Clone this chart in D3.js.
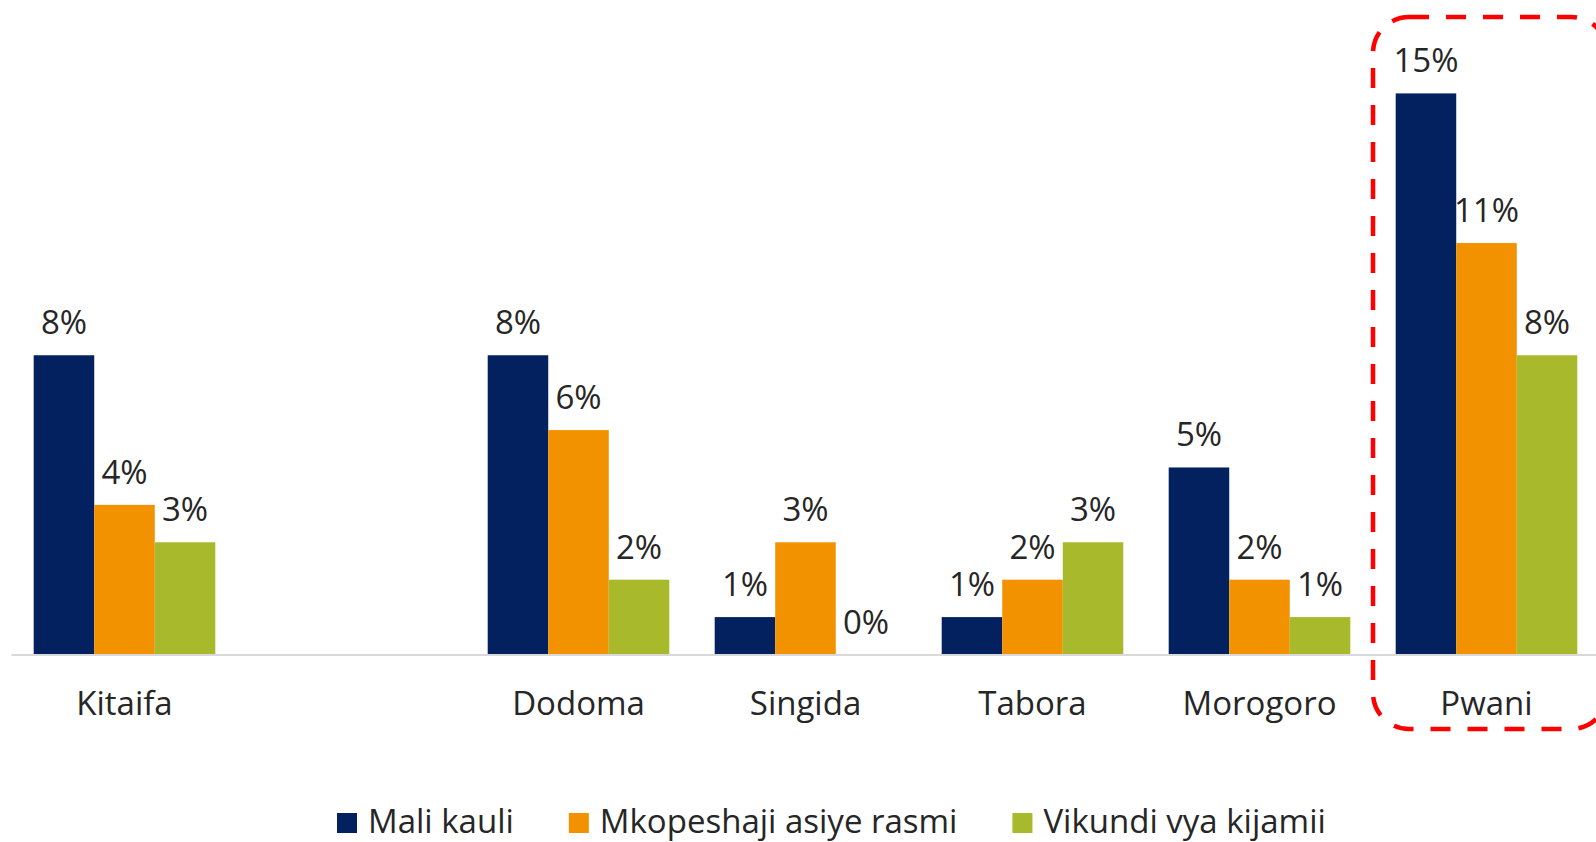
<!DOCTYPE html>
<html>
<head>
<meta charset="utf-8">
<script src="https://cdn.jsdelivr.net/npm/d3@7"></script>
<style>
    html, body { margin: 0; padding: 0; background: #fff; }
    svg { display: block; font-family: "Open Sans", "Noto Sans", sans-serif; }
</style>
</head>
<body>
<svg id="chart" width="1596" height="842"></svg>
<script>
// categories (the empty one is the gap after Kitaifa)
var categories = ["Kitaifa", "", "Dodoma", "Singida", "Tabora", "Morogoro", "Pwani"];

// series values, percent
var maliKauli = [8, null, 8, 1, 1, 5, 15];
var mkopeshaji = [4, null, 6, 3, 2, 2, 11];
var vikundi = [3, null, 2, 0, 3, 1, 8];

var seriesNames = ["Mali kauli", "Mkopeshaji asiye rasmi", "Vikundi vya kijamii"];
var seriesColors = ["#03215f", "#f39200", "#a8b92b"];
var seriesValues = [maliKauli, mkopeshaji, vikundi];

var highlighted = "Pwani";

var svg = d3.select("#chart");
var textColor = "#262626";
var fontSize = "33px";

var x0 = d3.scaleBand()
    .domain(categories)
    .range([11, 1600])
    .paddingInner(0.2)
    .paddingOuter(0.1);

var x1 = d3.scaleBand()
    .domain(d3.range(seriesNames.length))
    .range([0, x0.bandwidth()]);

var y = d3.scaleLinear()
    .domain([0, 16])
    .range([654.5, 56]);

// flatten into rows the library can bind
var rows = [];
categories.forEach(function (c, i) {
    seriesValues.forEach(function (vals, s) {
        if (vals[i] === null) return;
        rows.push({cat: c, series: s, value: vals[i]});
    });
});

// highlight box round Pwani
var step = x0.step();
svg.append("rect")
    .attr("x", x0(highlighted) - step * 0.1)
    .attr("y", 17)
    .attr("width", x0.bandwidth() + step * 0.1 + 30)
    .attr("height", 712)
    .attr("rx", 36)
    .attr("ry", 36)
    .attr("fill", "none")
    .attr("stroke", "#ff0000")
    .attr("stroke-width", 4.5)
    .attr("stroke-dasharray", "20,17");

// bars
svg.append("g")
    .selectAll("rect")
    .data(rows)
    .enter()
    .append("rect")
    .attr("x", function (d) { return x0(d.cat) + x1(d.series); })
    .attr("y", function (d) { return y(d.value); })
    .attr("width", x1.bandwidth())
    .attr("height", function (d) { return y(0) - y(d.value); })
    .attr("fill", function (d) { return seriesColors[d.series]; });

// baseline + category labels
var axis = svg.append("g")
    .attr("transform", "translate(0," + y(0) + ")")
    .call(d3.axisBottom(x0).tickSize(0).tickSizeOuter(0));

axis.select(".domain")
    .attr("stroke", "#d9d9d9")
    .attr("stroke-width", 2);

axis.selectAll(".tick text")
    .attr("y", 60)
    .attr("dy", 0)
    .attr("fill", textColor)
    .style("font-family", "'Open Sans', 'Noto Sans', sans-serif")
    .style("font-size", fontSize);

// value labels
svg.append("g")
    .selectAll("text")
    .data(rows)
    .enter()
    .append("text")
    .attr("x", function (d) { return x0(d.cat) + x1(d.series) + x1.bandwidth() / 2; })
    .attr("y", function (d) { return y(d.value) - 21; })
    .attr("text-anchor", "middle")
    .attr("fill", textColor)
    .style("font-size", fontSize)
    .text(function (d) { return d.value + "%"; });

// legend (sits at the bottom edge, as in the original)
var legend = svg.append("g").attr("transform", "translate(337,813)");
var lx = 0;
seriesNames.forEach(function (name, i) {
    var item = legend.append("g").attr("transform", "translate(" + lx + ",0)");
    item.append("rect")
        .attr("width", 20)
        .attr("height", 20)
        .attr("fill", seriesColors[i]);
    var t = item.append("text")
        .attr("x", 31)
        .attr("y", 20)
        .attr("fill", textColor)
        .style("font-size", fontSize)
        .text(name);
    lx += 31 + t.node().getComputedTextLength() + 55;
});
</script>
</body>
</html>
